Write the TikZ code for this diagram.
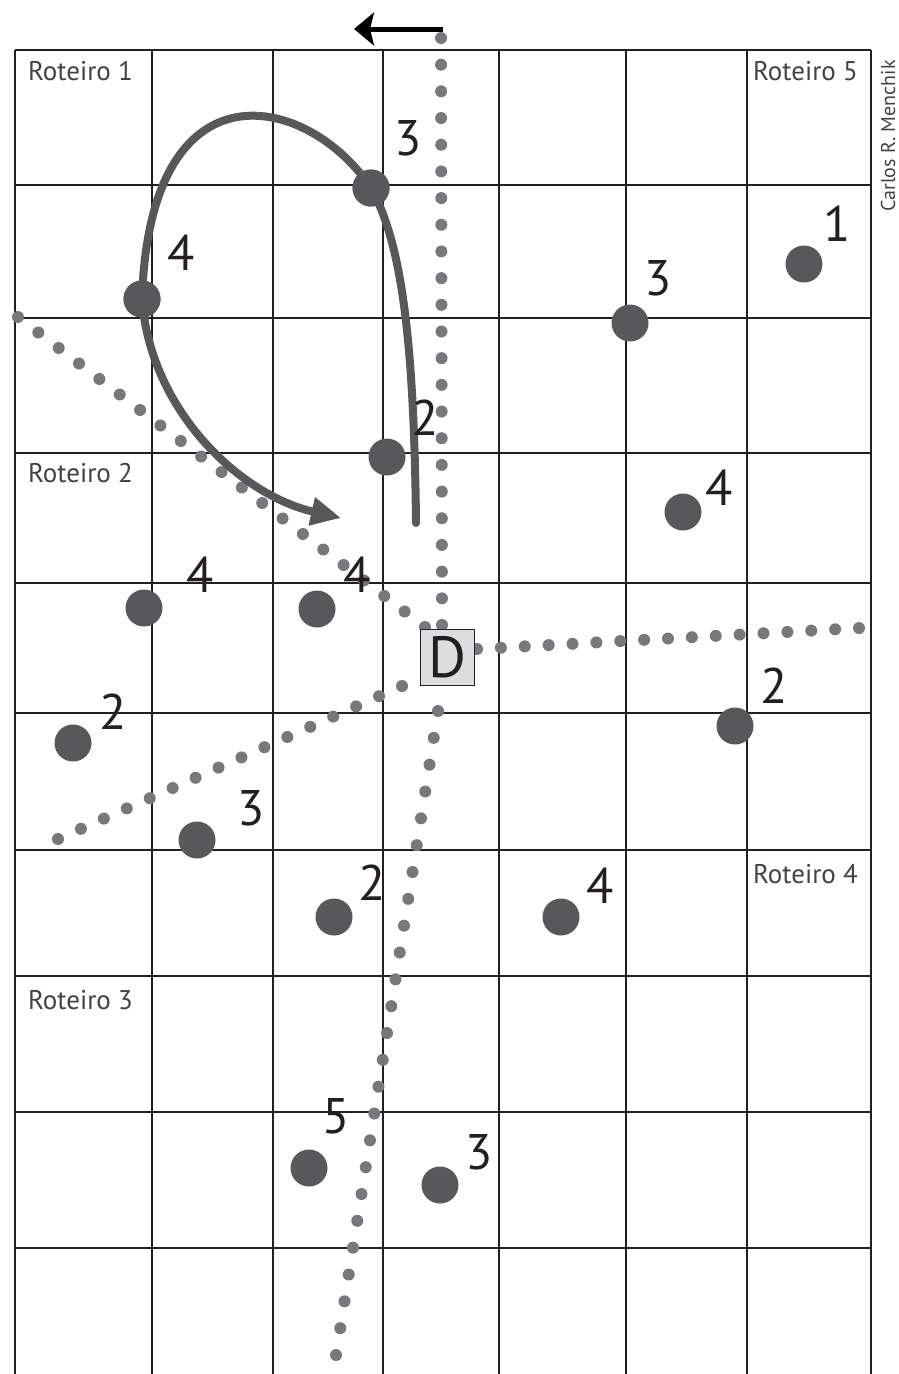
\documentclass[tikz,border=0pt]{standalone}
\usepackage{fontspec}
\setmainfont{PT Sans}
\usetikzlibrary{arrows.meta,calc}
\definecolor{ink}{HTML}{231F20}
\definecolor{dotdark}{HTML}{58585A}
\definecolor{dotlight}{HTML}{77787B}
\definecolor{boxfill}{HTML}{DCDDDE}
\tikzset{
  gridline/.style={draw=ink, line width=1.1pt},
  bigdot/.style={circle, fill=dotdark, minimum size=37pt, inner sep=0pt},
  num/.style={font=\fontsize{50}{50}\selectfont, inner sep=0pt, text=ink},
  roteiro/.style={font=\fontsize{27}{27}\selectfont, inner sep=0pt, text=ink!85},
  pathcurve/.style={draw=dotdark, line width=8pt, line cap=round},
  smalldot/.style={fill=dotlight},
}
\begin{document}
\begin{tikzpicture}[x=1pt,y=-1pt]
\useasboundingbox (0,0) rectangle (899,1374);
\fill[white] (0,0) rectangle (899,1374);
% grid
\draw[gridline] (15,50) -- (871,50);
\foreach \yy in {185,318,453,583,713,850,976,1112,1248}
  \draw[gridline] (15,\yy) -- (871,\yy);
\foreach \xx in {15,152,273,383,499,626,747,871}
  \draw[gridline] (\xx,50) -- (\xx,1374);
% dotted routes
\coordinate (vtop) at (441,38);
\coordinate (vbot) at (442,625);
\coordinate (rA) at (477,649);
\coordinate (rB) at (859,628);
\coordinate (dA) at (18,317);
\coordinate (dB) at (425,627);
\coordinate (lA) at (402,686);
\coordinate (lB) at (58,839);
\coordinate (bA) at (438,711);
\coordinate (bB) at (336,1355);
\foreach \i in {0,...,22} \fill[smalldot] ($(vtop)!\i/22!(vbot)$) circle (6pt);
\foreach \i in {0,...,16} \fill[smalldot] ($(rA)!\i/16!(rB)$) circle (6pt);
\foreach \i in {0,...,20} \fill[smalldot] ($(dA)!\i/20!(dB)$) circle (6pt);
\foreach \i in {0,...,15} \fill[smalldot] ($(lA)!\i/15!(lB)$) circle (6pt);
\foreach \i in {0,...,24} \fill[smalldot] ($(bA)!\i/24!(bB)$) circle (6pt);
% top arrow
\coordinate (atail) at (443,29);
\coordinate (ahead) at (354,29);
\draw[draw=black, line width=5pt, -{Stealth[length=20pt,width=33pt,inset=4pt]}] (atail) -- (ahead);
% D box
\node[draw=ink, line width=1pt, fill=boxfill, minimum width=54pt, minimum height=56pt, inner sep=0pt,
      font=\fontsize{58}{58}\selectfont, text=ink] (D) at (447,657) {D};
% big dots
\node[bigdot] (p3a) at (371,188) {};
\node[bigdot] (p4a) at (142,299) {};
\node[bigdot] (p1) at (804,264) {};
\node[bigdot] (p3b) at (630,323) {};
\node[bigdot] (p2a) at (387,457) {};
\node[bigdot] (p4b) at (683,512) {};
\node[bigdot] (p2b) at (735,726) {};
\node[bigdot] (p4c) at (144,608) {};
\node[bigdot] (p4d) at (317,609) {};
\node[bigdot] (p2c) at (73,743) {};
\node[bigdot] (p3c) at (197,840) {};
\node[bigdot] (p2d) at (334,917) {};
\node[bigdot] (p4e) at (561,917) {};
\node[bigdot] (p5) at (309,1168) {};
\node[bigdot] (p3d) at (440,1185) {};
% curved route with arrow
\coordinate (cstart) at (416,523);
\coordinate (ctip) at (341,518);
\draw[pathcurve, -{Triangle[length=30pt,width=27pt]}]
  (cstart) .. controls (414,330) and (400,240) .. (p3a.center)
  .. controls (310,95) and (150,55) .. (p4a.center)
  .. controls (150,410) and (240,495) .. (ctip);
\node[bigdot] at (p3a) {};
\node[bigdot] at (p4a) {};
% numbers
\node[num] (n3a) at (408,138) {3};
\node[num] (n4a) at (181,253) {4};
\node[num] (n1) at (837,224) {1};
\node[num] (n3b) at (658,278) {3};
\node[num] (n2a) at (425,418) {2};
\node[num] (n4b) at (719,488) {4};
\node[num] (n2b) at (774,686) {2};
\node[num] (n4c) at (200,575) {4};
\node[num] (n4d) at (357,575) {4};
\node[num] (n2c) at (113,712) {2};
\node[num] (n3c) at (251,808) {3};
\node[num] (n2d) at (372,883) {2};
\node[num] (n4e) at (600,886) {4};
\node[num] (n5) at (336,1116) {5};
\node[num] (n3d) at (479,1152) {3};
% route labels
\node[roteiro, anchor=base west] (r1) at (28,80) {Roteiro 1};
\node[roteiro, anchor=base east] (r5) at (858,80) {Roteiro 5};
\node[roteiro, anchor=base west] (r2) at (28,482) {Roteiro 2};
\node[roteiro, anchor=base east] (r4) at (858,883) {Roteiro 4};
\node[roteiro, anchor=base west] (r3) at (28,1009) {Roteiro 3};
% credit
\node[font=\fontsize{20}{20}\selectfont, text=ink!85, rotate=90, inner sep=0pt] (credit) at (888,136) {Carlos R. Menchik};
\end{tikzpicture}
\end{document}
